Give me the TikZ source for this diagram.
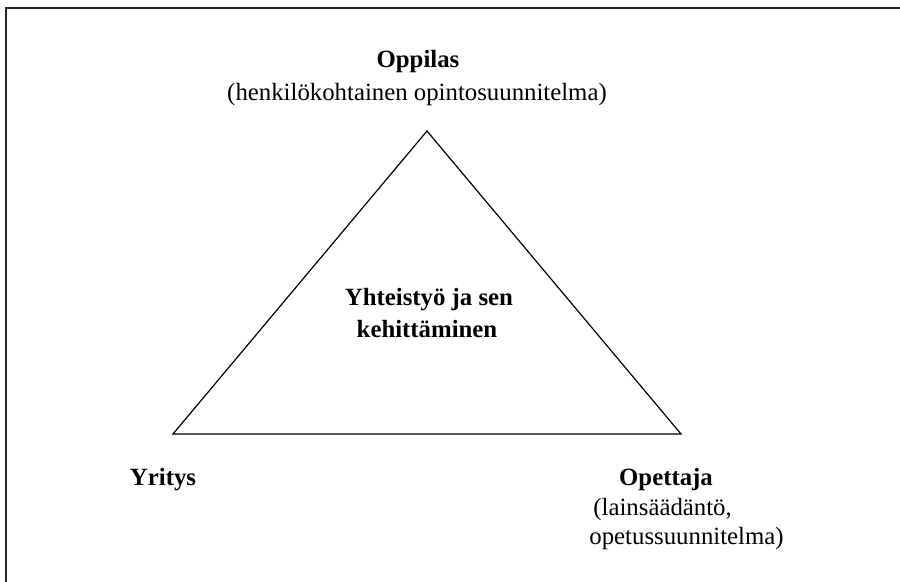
\documentclass[tikz,border=0pt]{standalone}
\usepackage{fontspec}
\setmainfont{Liberation Serif}

\begin{document}
\begin{tikzpicture}[x=0.5pt, y=-0.5pt, font=\fontsize{12.4}{14}\selectfont]
        \useasboundingbox (0, 0) rectangle (900, 582);

        \draw[semithick, black!85] (900, 8) -- (6, 8) -- (6, 582);

        \coordinate (A) at (427, 131);
        \coordinate (B) at (173, 434);
        \coordinate (C) at (681, 434);

        \draw[semithick] (A) -- (B) -- (C) -- cycle;

        \node[font=\fontsize{12.4}{14}\selectfont\bfseries] (oppilas) at (418, 62) {Oppilas};
        \node (oppilasinfo) at (417, 95) {(henkilökohtainen opintosuunnitelma)};

        \node[font=\fontsize{12.4}{14}\selectfont\bfseries] (yhteis) at (429, 300) {Yhteistyö ja sen};
        \node[font=\fontsize{12.4}{14}\selectfont\bfseries] (kehit) at (427, 329) {kehittäminen};

        \node[font=\fontsize{12.4}{14}\selectfont\bfseries] (yritys) at (163, 480) {Yritys};

        \node[font=\fontsize{12.4}{14}\selectfont\bfseries] (opettaja) at (666, 480) {Opettaja};
        \node[anchor=west, inner sep=0pt] (laki) at (593, 510) {(lainsäädäntö,};
        \node[anchor=west, inner sep=0pt] (ops) at (589, 539) {opetussuunnitelma)};

    \end{tikzpicture}
\end{document}
